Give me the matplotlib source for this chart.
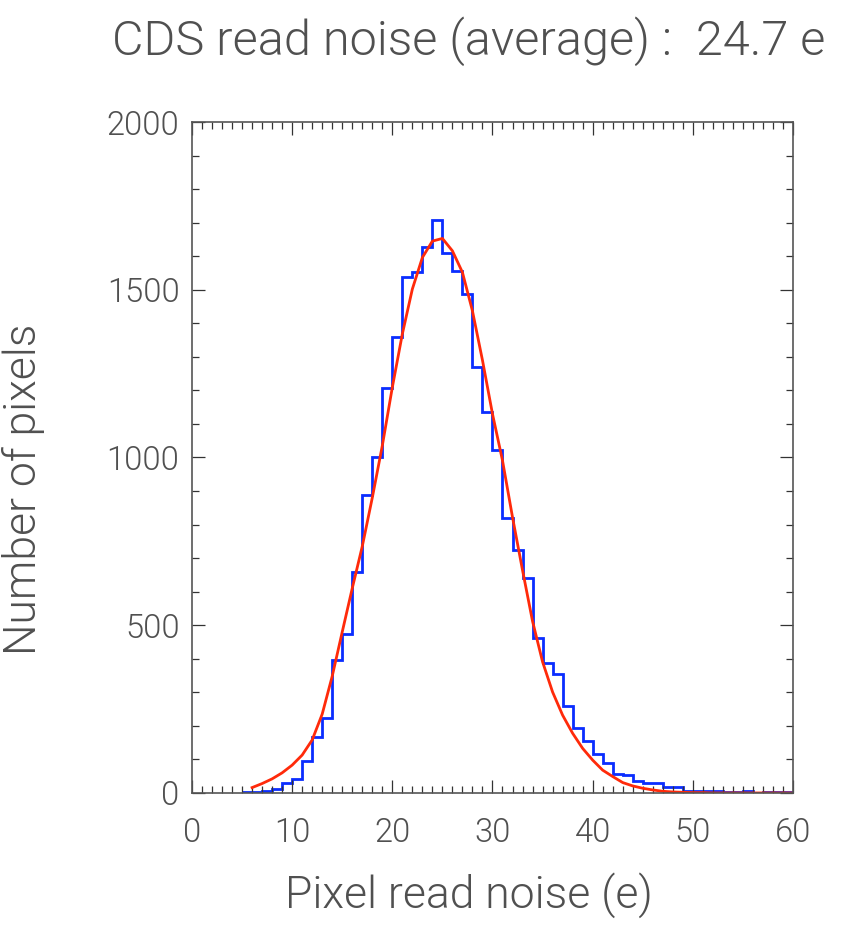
import numpy as np
import matplotlib
matplotlib.use("Agg")
import matplotlib.pyplot as plt
from matplotlib.ticker import MultipleLocator

# Histogram of pixel read noise (1 e bins, left edges 5..59)
bin_edges = list(range(5, 61))
counts = [2, 2, 5, 12, 31, 43, 96, 168, 224, 395,
          473, 658, 887, 1000, 1206, 1358, 1538, 1552, 1628, 1708,
          1611, 1556, 1486, 1269, 1135, 1023, 820, 723, 641, 463,
          386, 356, 260, 194, 155, 116, 88, 57, 54, 36,
          31, 29, 18, 18, 7, 6, 6, 5, 4, 4,
          5, 1, 3, 2, 2]

# Fitted curve
fit_x = list(range(6, 61))
fit_y = [16, 28, 42, 60, 83, 113, 158, 235, 348, 480,
         610, 735, 880, 1035, 1209, 1368, 1502, 1596, 1645, 1653,
         1616, 1552, 1437, 1290, 1130, 991, 822, 664, 512, 391,
         301, 232, 178, 133, 98, 68, 49, 31, 21, 14,
         9, 5, 3, 2, 1, 1, 0, 0, 0, 0,
         0, 0, 0, 0, 0]

title = "CDS read noise (average) :  24.7 e"
xlabel = "Pixel read noise (e)"
ylabel = "Number of pixels"
xticks = [0, 10, 20, 30, 40, 50, 60]
yticks = [0, 500, 1000, 1500, 2000]

plt.rcParams['font.family'] = ['Roboto', 'DejaVu Sans']
txt = '#505050'
W = 300

fig = plt.figure(figsize=(8.48, 9.33), dpi=100)
ax = fig.add_axes([0.2264, 0.1501, 0.7087, 0.7191])

ax.stairs(counts, bin_edges, baseline=None, color='#0a2dff', linewidth=2.0)
ax.plot(fit_x, fit_y, color='#ff2a0a', linewidth=2.0)

ax.set_xlim(0, 60)
ax.set_ylim(0, 2000)
ax.set_xticks(xticks)
ax.set_yticks(yticks)
ax.xaxis.set_minor_locator(MultipleLocator(1))
ax.yaxis.set_minor_locator(MultipleLocator(100))
ax.tick_params(which='both', direction='in', top=True, right=True, color='#333333', width=0.9)
ax.tick_params(which='major', length=9.5)
ax.tick_params(which='minor', length=5)
ax.tick_params(axis='x', which='major', pad=17, labelsize=23.5, labelcolor=txt)
ax.tick_params(axis='y', which='major', pad=9, labelsize=23.5, labelcolor=txt)
for lab in ax.get_xticklabels() + ax.get_yticklabels():
    lab.set_fontweight(W)
for s in ax.spines.values():
    s.set_color('#555555')
    s.set_linewidth(1.2)

ax.set_xlabel(xlabel, fontsize=32, color=txt, fontweight=W)
ax.xaxis.set_label_coords(0.461, -0.118)
ax.set_ylabel(ylabel, fontsize=32, color=txt, fontweight=W)
ax.yaxis.set_label_coords(-0.245, 0.452)
fig.text(0.553, 0.956, title, fontsize=35, color=txt, fontweight=W, ha='center', va='center')

fig.savefig('out.png', dpi=100)
